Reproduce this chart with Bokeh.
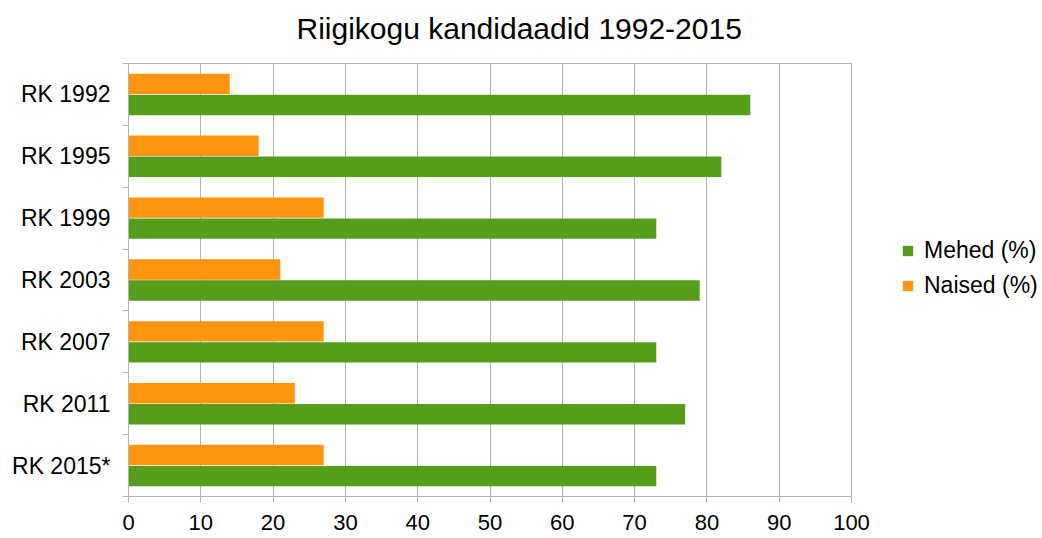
from bokeh.plotting import figure
from bokeh.models import Range1d, FixedTicker, Legend, LegendItem, ColumnDataSource, Title
from bokeh.embed import file_html
from bokeh.resources import INLINE

categories = ["RK 1992", "RK 1995", "RK 1999", "RK 2003", "RK 2007", "RK 2011", "RK 2015*"]
mehed = [86, 82, 73, 79, 73, 77, 73]
naised = [14, 18, 27, 21, 27, 23, 27]
x_ticks = [0, 10, 20, 30, 40, 50, 60, 70, 80, 90, 100]

GREEN = "#579d1c"
ORANGE = "#ff950e"
GRID = "#b3b3b3"
FONT = "Liberation Sans"

pos = [i + 1 for i in range(len(categories))]
src = ColumnDataSource(dict(
    y_m=[y + 0.17 for y in pos],
    y_n=[y - 0.17 for y in pos],
    mehed=mehed, naised=naised,
))

p = figure(frame_width=723, frame_height=433,
           x_range=Range1d(0, 100), y_range=Range1d(len(categories) + 0.5, 0.5),
           output_backend="svg", toolbar_location=None,
           min_border_left=128, min_border_top=63, min_border_bottom=42, min_border_right=191)

p.title.text = "Riigikogu kandidaadid 1992-2015"
p.title.text_font = FONT
p.title.text_font_size = "30px"
p.title.text_font_style = "normal"
p.title.text_color = "#000000"
p.title.align = "left"
p.title.offset = 168
p.title.standoff = 10

# empty spacer between the title and the plot frame
p.add_layout(Title(text=" ", text_font_size="1px", standoff=11), "above")

rm = p.hbar(y="y_m", right="mehed", left=0, height=0.33, source=src, color=GREEN, line_color=None)
rn = p.hbar(y="y_n", right="naised", left=0, height=0.33, source=src, color=ORANGE, line_color=None)

# y axis
yax = p.yaxis[0]
yax.ticker = FixedTicker(ticks=pos, minor_ticks=[y - 0.5 for y in pos] + [pos[-1] + 0.5])
yax.major_label_overrides = {y: c for y, c in zip(pos, categories)}
yax.major_tick_out = 0
yax.major_tick_in = 0
yax.minor_tick_out = 6
yax.minor_tick_in = 0
yax.minor_tick_line_color = GRID
yax.axis_line_color = GRID
yax.major_label_text_font = FONT
yax.major_label_text_font_size = "23px"
yax.major_label_text_color = "#000000"
yax.major_label_standoff = 12

xax = p.xaxis[0]
xax.ticker = FixedTicker(ticks=x_ticks, minor_ticks=[])
xax.major_tick_out = 6
xax.major_tick_in = 0
xax.major_tick_line_color = GRID
xax.axis_line_color = GRID
xax.major_label_text_font = FONT
xax.major_label_text_font_size = "22px"
xax.major_label_text_color = "#000000"
xax.major_label_standoff = 12

p.xgrid.grid_line_color = GRID
p.xgrid.ticker = FixedTicker(ticks=x_ticks)
p.ygrid.grid_line_color = None
p.outline_line_color = GRID

legend = Legend(items=[LegendItem(label="Mehed (%)", renderers=[rm]),
                       LegendItem(label="Naised (%)", renderers=[rn])],
                location=(50, 197), border_line_color=None, background_fill_alpha=0,
                label_text_font=FONT, label_text_font_size="23px", label_text_color="#000000",
                glyph_width=13, glyph_height=13, spacing=8, label_standoff=10,
                margin=0, padding=0, label_height=22)
p.add_layout(legend, "right")

open("out.html", "w").write(file_html(p, INLINE))
